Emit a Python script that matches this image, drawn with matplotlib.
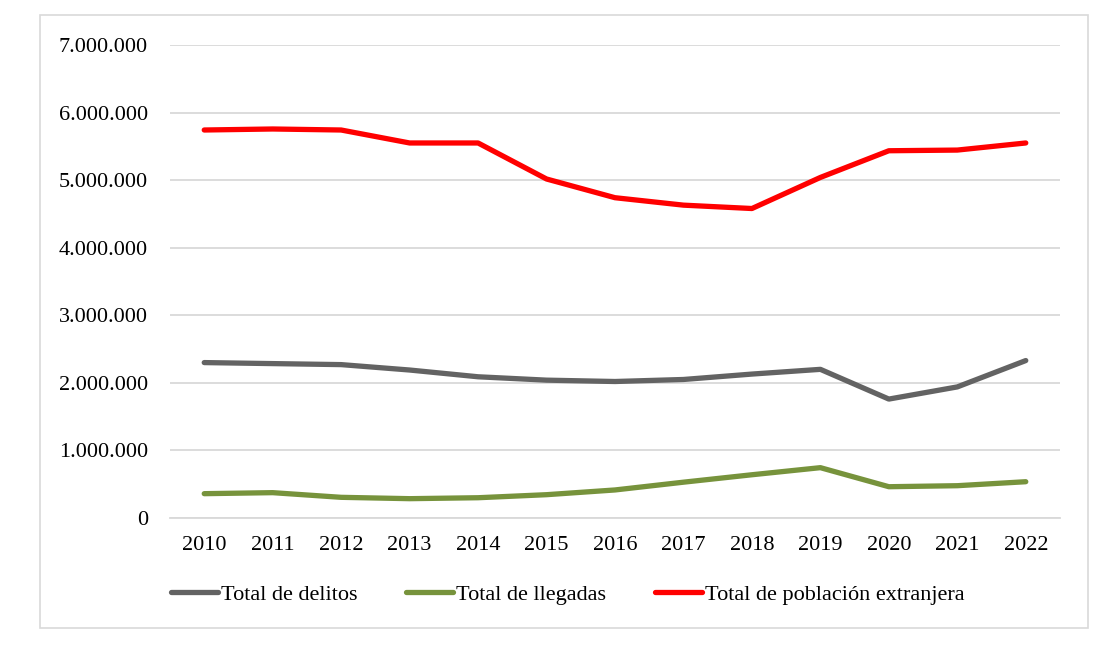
import matplotlib.pyplot as plt
from matplotlib.patches import Rectangle
from matplotlib.ticker import FuncFormatter

years = ["2010", "2011", "2012", "2013", "2014", "2015", "2016",
         "2017", "2018", "2019", "2020", "2021", "2022"]

delitos = [2300000, 2285000, 2270000, 2190000, 2090000, 2040000, 2020000,
           2050000, 2130000, 2200000, 1760000, 1940000, 2330000]
llegadas = [360000, 375000, 306000, 286000, 300000, 345000, 415000,
            530000, 640000, 745000, 463000, 478000, 537000]
poblacion = [5742000, 5757000, 5742000, 5550000, 5550000, 5017000, 4740000,
             4630000, 4580000, 5040000, 5435000, 5445000, 5550000]

plt.rcParams['font.family'] = ['Liberation Serif', 'DejaVu Serif']

fig = plt.figure(figsize=(11.05, 6.51), dpi=100)
ax = fig.add_axes([170 / 1105, 1 - 518 / 651, 890 / 1105, 473 / 651])

# outer frame like the excel chart area
fig.patches.append(Rectangle((40 / 1105, 1 - 628 / 651), 1048 / 1105, 613 / 651,
                             transform=fig.transFigure, fill=False,
                             edgecolor="#D9D9D9", linewidth=1.2))

x = range(len(years))
ax.plot(x, delitos, color="#636363", linewidth=3.8, solid_capstyle="round",
        label="Total de delitos")
ax.plot(x, llegadas, color="#77933C", linewidth=3.8, solid_capstyle="round",
        label="Total de llegadas")
ax.plot(x, poblacion, color="#FF0000", linewidth=3.8, solid_capstyle="round",
        label="Total de población extranjera")

ax.set_xlim(-0.5, len(years) - 0.5)
ax.set_ylim(0, 7000000)
ax.set_yticks(range(0, 7000001, 1000000))
ax.yaxis.set_major_formatter(FuncFormatter(lambda v, p: f"{int(v):,}".replace(",", ".")))
ax.set_xticks(list(x))
ax.set_xticklabels(years)

ax.grid(axis="y", color="#D9D9D9", linewidth=1.3)
ax.set_axisbelow(True)
for s in ["top", "right", "left"]:
    ax.spines[s].set_visible(False)
ax.spines["bottom"].set_color("#D9D9D9")
ax.spines["bottom"].set_linewidth(1.3)
ax.tick_params(length=0, labelsize=16, colors="#000000")
ax.tick_params(axis="y", pad=16)
ax.tick_params(axis="x", pad=13)

ax.legend(loc="center", bbox_to_anchor=(0.447, -0.162), ncol=3, frameon=False,
          fontsize=16, handlelength=2.1, columnspacing=2.2, handletextpad=0.15)

fig.savefig("out.png", dpi=100)
